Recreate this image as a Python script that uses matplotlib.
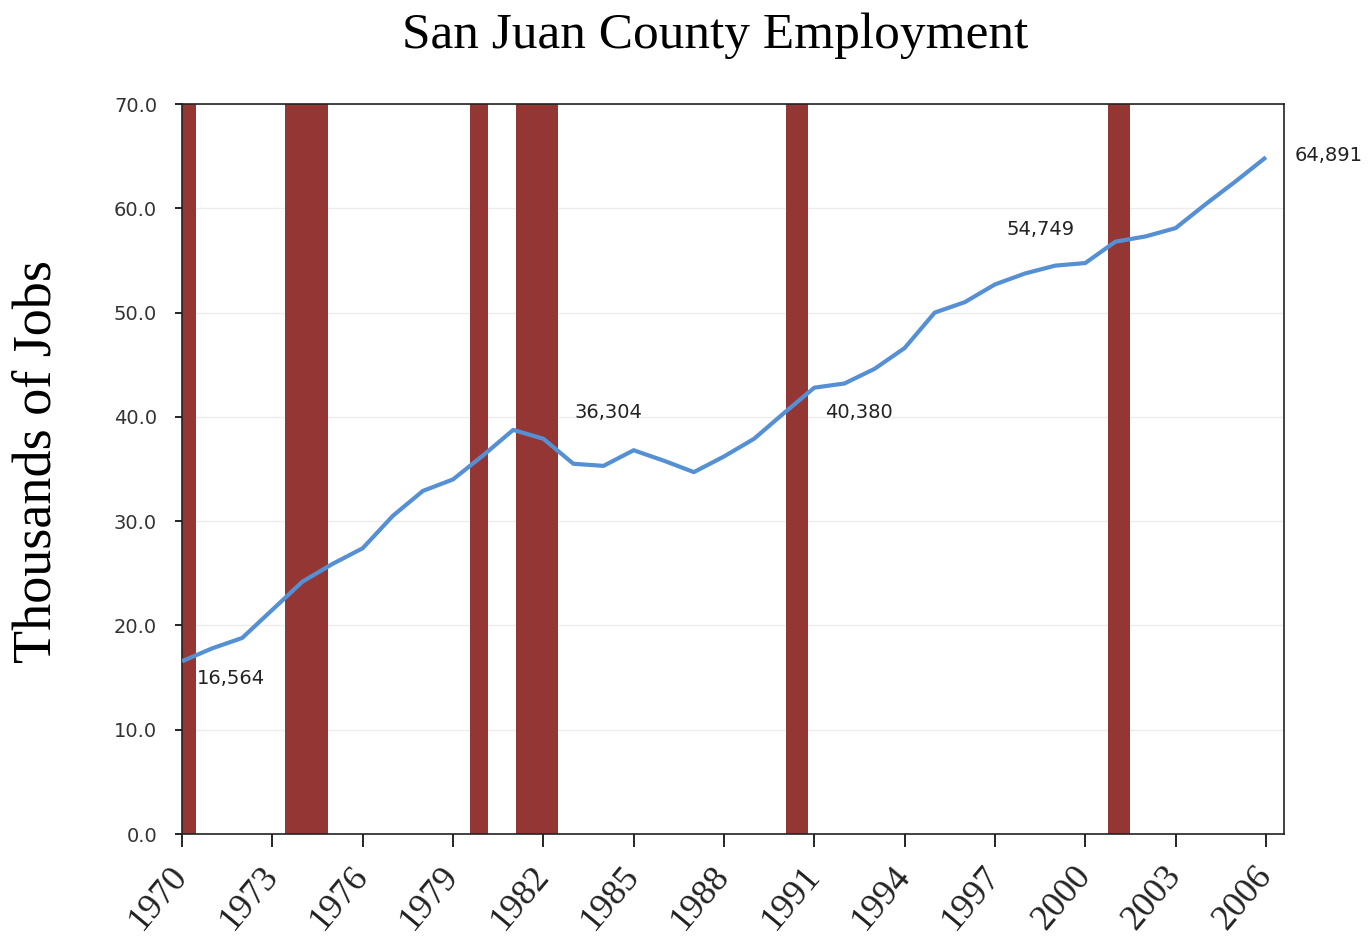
import numpy as np
import matplotlib.pyplot as plt
from matplotlib.transforms import ScaledTranslation

# Figure dpi
dpi = 100

years = list(range(1970, 2007))
jobs = [16.564, 17.8, 18.8, 21.5, 24.2, 25.9, 27.4, 30.5, 32.9, 34.0,
        36.304, 38.75, 37.9, 35.5, 35.3, 36.8, 35.8, 34.7, 36.2, 37.9,
        40.380, 42.8, 43.2, 44.6, 46.6, 50.0, 51.0, 52.7, 53.75, 54.5,
        54.749, 56.8, 57.3, 58.1, 60.4, 62.6, 64.891]

# recession periods (start, end) in fractional years
rec_start = [1970.0, 1973.43, 1979.58, 1981.09, 1990.05, 2000.75]
rec_end = [1970.48, 1974.84, 1980.15, 1982.5, 1990.79, 2001.48]

# labelled points and where their text sits (offset in pixels)
lab_years = [1970, 1980, 1990, 2000, 2006]
lab_text = ['16,564', '36,304', '40,380', '54,749', '64,891']
lab_off = [(15, -17), (91, 43), (41, 0), (-11, 34), (29, 2)]
lab_ha = ['left', 'left', 'left', 'right', 'left']

serif = 'Liberation Serif'
sans = 'DejaVu Sans'

fig = plt.figure(figsize=(1368/dpi, 943/dpi), dpi=dpi)
ax = fig.add_axes([182/1368, 1 - 834/943, (1284 - 182)/1368, (834 - 104)/943])

for s, e in zip(rec_start, rec_end):
    ax.axvspan(s, e, color='#943634', lw=0, zorder=1)

ax.plot(years, jobs, c='#5690D4', lw=3, zorder=3, solid_capstyle='butt')

for yr, txt, off, ha in zip(lab_years, lab_text, lab_off, lab_ha):
    ax.annotate(txt, (yr, jobs[years.index(yr)]), xytext=off,
                textcoords='offset pixels', ha=ha, va='center',
                fontsize=14, family=sans, color='#222222',
                annotation_clip=False)

ax.set_xlim(1970, 2006.6)
ax.set_ylim(0, 70)
ax.set_xticks(range(1970, 2007, 3))
ax.set_yticks(range(0, 71, 10))
ax.set_yticklabels(['{:.1f}'.format(v) for v in range(0, 71, 10)],
                   family=sans, fontsize=14, color='#333333')
ax.set_xticklabels([str(y) for y in range(1970, 2007, 3)], family=serif,
                   fontsize=26, rotation=50, ha='right', va='center',
                   rotation_mode='anchor', color='#222222')
shift = ScaledTranslation(9/dpi, 0, fig.dpi_scale_trans)
for lab in ax.get_xticklabels():
    lab.set_transform(lab.get_transform() + shift)
ax.tick_params(axis='x', length=9, width=1.2, pad=17)
ax.tick_params(axis='y', length=5, width=1.2, pad=13)

ax.grid(axis='y', color='#ececec', lw=1, zorder=0)
ax.set_axisbelow(True)
for sp in ax.spines.values():
    sp.set_linewidth(1.2)
    sp.set_color('#222222')

ax.set_ylabel('Thousands of Jobs', family=serif, fontsize=39)
ax.yaxis.set_label_coords(-0.108, 0.51)
fig.text(0.523, 0.962, 'San Juan County Employment', family=serif,
         fontsize=37, ha='center', va='center')

plt.savefig('out.png', dpi=dpi)
